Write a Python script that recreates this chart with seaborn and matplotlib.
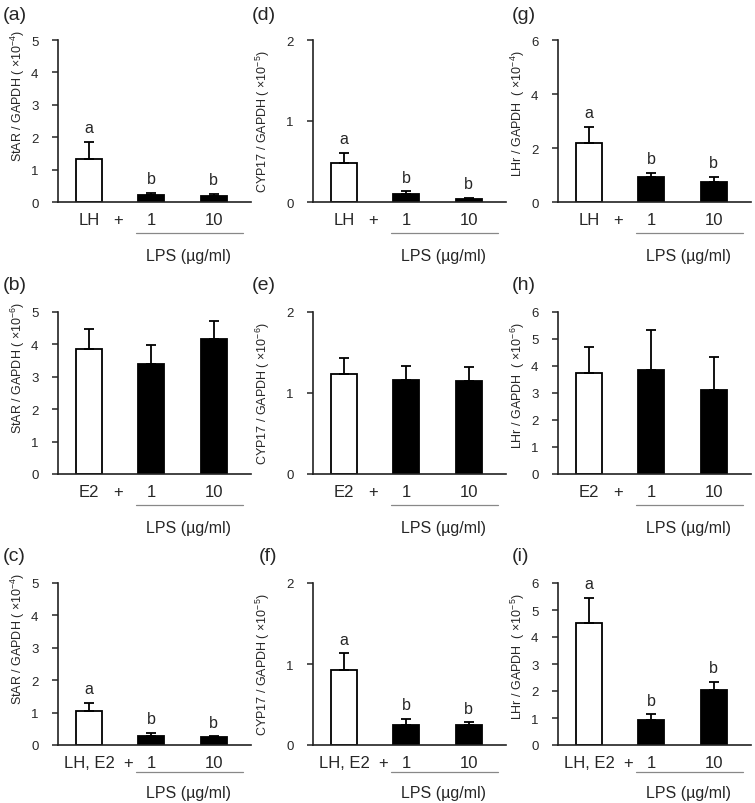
import numpy as np
import pandas as pd
import matplotlib
matplotlib.use('Agg')
import matplotlib.pyplot as plt
import matplotlib.transforms as mtransforms
import seaborn as sns

sns.set_style('ticks')
plt.rcParams['font.family'] = ['Liberation Sans', 'DejaVu Sans']
plt.rcParams['mathtext.fontset'] = 'custom'
plt.rcParams['mathtext.rm'] = 'Liberation Sans'

# Dados: linhas = LH, E2, LH+E2 ; colunas = controle, LPS 1, LPS 10
tratamentos = ['LH', 'E2', 'LH, E2']
doses = ['1', '10']

star_media = [[1.32, 0.22, 0.19], [3.86, 3.41, 4.18], [1.05, 0.29, 0.25]]
star_dp = [[0.54, 0.07, 0.06], [0.60, 0.57, 0.53], [0.26, 0.09, 0.02]]
cyp_media = [[0.48, 0.10, 0.04], [1.24, 1.16, 1.15], [0.93, 0.25, 0.25]]
cyp_dp = [[0.13, 0.03, 0.01], [0.19, 0.17, 0.17], [0.20, 0.07, 0.03]]
lhr_media = [[2.19, 0.91, 0.75], [3.74, 3.84, 3.10], [4.53, 0.91, 2.02]]
lhr_dp = [[0.58, 0.18, 0.19], [0.97, 1.48, 1.24], [0.91, 0.22, 0.32]]

letras = [['a', 'b', 'b'], None, ['a', 'b', 'b']]

star_exp = ['-4', '-6', '-4']
cyp_exp = ['-5', '-6', '-5']
lhr_exp = ['-4', '-6', '-5']

paineis = [['(a)', '(d)', '(g)'], ['(b)', '(e)', '(h)'], ['(c)', '(f)', '(i)']]

W, H = 755, 804
fig = plt.figure(figsize=(W / 100, H / 100), dpi=100)

col_left = [58, 313, 558]
row_top = [41, 313, 584]
ax_w, ax_h = 193, 162

genes = [
    ('StAR / GAPDH ( $\\times$10$^{%s}$)', star_media, star_dp, star_exp, 5, 1, 0.66, -0.16),
    ('CYP17 / GAPDH ( $\\times$10$^{%s}$)', cyp_media, cyp_dp, cyp_exp, 2, 1, 0.5, -0.21),
    ('LHr / GAPDH  ( $\\times$10$^{%s}$)', lhr_media, lhr_dp, lhr_exp, 6, None, 0.55, -0.16),
]

for r in range(3):
    for c in range(3):
        label_fmt, medias, dps, exps, ymax, ystep, ly, lx = genes[c]
        left = col_left[c] / W
        bottom = 1 - (row_top[r] + ax_h) / H
        ax = fig.add_axes([left, bottom, ax_w / W, ax_h / H])

        df = pd.DataFrame({'grupo': [tratamentos[r]] + doses,
                           'valor': medias[r],
                           'dp': dps[r]})
        sns.barplot(data=df, x='grupo', y='valor', hue='grupo',
                    palette=['white', 'black', 'black'], legend=False,
                    edgecolor='black', linewidth=1.3, width=0.42,
                    errorbar=None, ax=ax)
        xpos = np.arange(len(df))
        ax.errorbar(xpos, df['valor'], yerr=[np.zeros(len(df)), df['dp']],
                    fmt='none', ecolor='black', elinewidth=1.3, capsize=3.5,
                    capthick=1.3)

        # letras de significância
        if letras[r] is not None:
            for i, let in enumerate(letras[r]):
                ax.annotate(let, (xpos[i], df['valor'][i] + df['dp'][i]),
                            xytext=(0, 7), textcoords='offset points',
                            ha='center', va='baseline', fontsize=11.5)

        if ystep is None:
            ystep = 2 if r == 0 else 1
        ax.set_ylim(0, ymax)
        ax.set_yticks(np.arange(0, ymax + 0.01, ystep))
        ax.set_xlim(-0.5, 2.6)

        plus_x = 0.62 if r == 2 else 0.47
        ax.set_xticks([0, plus_x, 1, 2])
        ax.set_xticklabels([tratamentos[r], '+', '1', '10'], fontsize=12)
        ax.tick_params(axis='x', length=0, pad=7)
        ax.tick_params(axis='y', length=4, width=1.1, pad=10, labelsize=9.5)
        ax.set_xlabel('')
        ax.set_ylabel(label_fmt % exps[r], fontsize=9)
        ax.yaxis.set_label_coords(lx, ly)

        sns.despine(ax=ax)
        for sp in ['left', 'bottom']:
            ax.spines[sp].set_linewidth(1.2)
            ax.spines[sp].set_color('#222222')

        # linha e texto do LPS
        line_y, text_y = (-0.165, -0.295) if r == 2 else (-0.19, -0.33)
        trans = mtransforms.blended_transform_factory(ax.transData, ax.transAxes)
        ax.plot([0.75, 2.47], [line_y, line_y], color='#888888', lw=0.9,
                transform=trans, clip_on=False)
        ax.text(1.6, text_y, 'LPS (µg/ml)', transform=trans, ha='center',
                va='center', fontsize=11.5)

        # rótulo do painel
        px = [3, 252, 512][c] if r != 2 else [3, 259, 512][c]
        py = [16, 285, 557][r]
        fig.text(px / W, 1 - py / H, paineis[r][c], fontsize=14,
                 ha='left', va='center')

fig.savefig('out.png', dpi=100)
